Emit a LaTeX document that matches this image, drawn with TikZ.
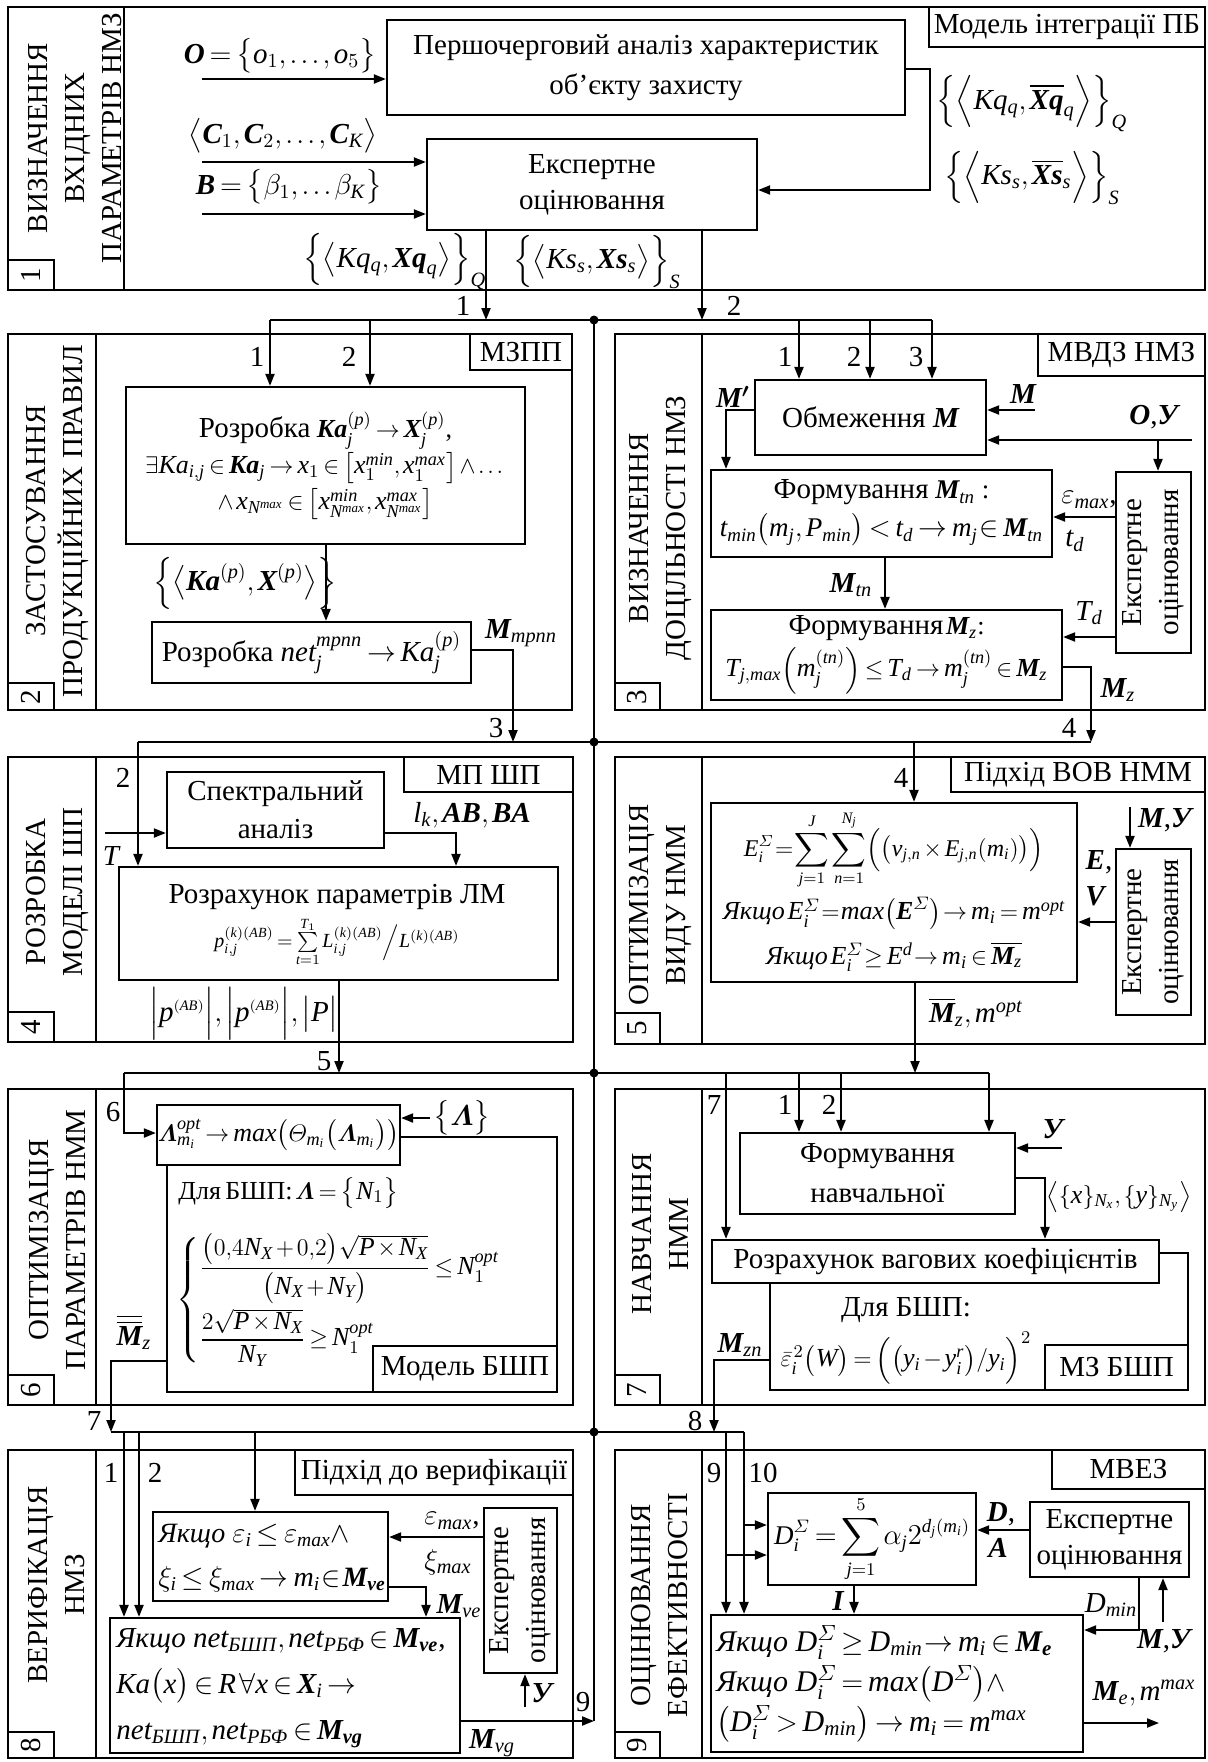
\documentclass[tikz,border=0pt]{standalone}
\usepackage{amsmath,amssymb}
\usepackage{fontspec}
\setmainfont{Liberation Serif}
\newfontfamily\libser{Liberation Serif}[NFSSFamily=libser]
\DeclareSymbolFont{tlet}{TU}{libser}{m}{it}
\SetSymbolFont{tlet}{bold}{TU}{libser}{b}{it}
\DeclareSymbolFont{tdig}{TU}{libser}{m}{n}
\SetSymbolFont{tdig}{bold}{TU}{libser}{b}{n}
\DeclareMathSymbol{a}{\mathalpha}{tlet}{`a}\DeclareMathSymbol{b}{\mathalpha}{tlet}{`b}
\DeclareMathSymbol{c}{\mathalpha}{tlet}{`c}\DeclareMathSymbol{d}{\mathalpha}{tlet}{`d}
\DeclareMathSymbol{e}{\mathalpha}{tlet}{`e}\DeclareMathSymbol{f}{\mathalpha}{tlet}{`f}
\DeclareMathSymbol{g}{\mathalpha}{tlet}{`g}\DeclareMathSymbol{h}{\mathalpha}{tlet}{`h}
\DeclareMathSymbol{i}{\mathalpha}{tlet}{`i}\DeclareMathSymbol{j}{\mathalpha}{tlet}{`j}
\DeclareMathSymbol{k}{\mathalpha}{tlet}{`k}\DeclareMathSymbol{l}{\mathalpha}{tlet}{`l}
\DeclareMathSymbol{m}{\mathalpha}{tlet}{`m}\DeclareMathSymbol{n}{\mathalpha}{tlet}{`n}
\DeclareMathSymbol{o}{\mathalpha}{tlet}{`o}\DeclareMathSymbol{p}{\mathalpha}{tlet}{`p}
\DeclareMathSymbol{q}{\mathalpha}{tlet}{`q}\DeclareMathSymbol{r}{\mathalpha}{tlet}{`r}
\DeclareMathSymbol{s}{\mathalpha}{tlet}{`s}\DeclareMathSymbol{t}{\mathalpha}{tlet}{`t}
\DeclareMathSymbol{u}{\mathalpha}{tlet}{`u}\DeclareMathSymbol{v}{\mathalpha}{tlet}{`v}
\DeclareMathSymbol{w}{\mathalpha}{tlet}{`w}\DeclareMathSymbol{x}{\mathalpha}{tlet}{`x}
\DeclareMathSymbol{y}{\mathalpha}{tlet}{`y}\DeclareMathSymbol{z}{\mathalpha}{tlet}{`z}
\DeclareMathSymbol{A}{\mathalpha}{tlet}{`A}\DeclareMathSymbol{B}{\mathalpha}{tlet}{`B}
\DeclareMathSymbol{C}{\mathalpha}{tlet}{`C}\DeclareMathSymbol{D}{\mathalpha}{tlet}{`D}
\DeclareMathSymbol{E}{\mathalpha}{tlet}{`E}\DeclareMathSymbol{F}{\mathalpha}{tlet}{`F}
\DeclareMathSymbol{G}{\mathalpha}{tlet}{`G}\DeclareMathSymbol{H}{\mathalpha}{tlet}{`H}
\DeclareMathSymbol{I}{\mathalpha}{tlet}{`I}\DeclareMathSymbol{J}{\mathalpha}{tlet}{`J}
\DeclareMathSymbol{K}{\mathalpha}{tlet}{`K}\DeclareMathSymbol{L}{\mathalpha}{tlet}{`L}
\DeclareMathSymbol{M}{\mathalpha}{tlet}{`M}\DeclareMathSymbol{N}{\mathalpha}{tlet}{`N}
\DeclareMathSymbol{O}{\mathalpha}{tlet}{`O}\DeclareMathSymbol{P}{\mathalpha}{tlet}{`P}
\DeclareMathSymbol{Q}{\mathalpha}{tlet}{`Q}\DeclareMathSymbol{R}{\mathalpha}{tlet}{`R}
\DeclareMathSymbol{S}{\mathalpha}{tlet}{`S}\DeclareMathSymbol{T}{\mathalpha}{tlet}{`T}
\DeclareMathSymbol{U}{\mathalpha}{tlet}{`U}\DeclareMathSymbol{V}{\mathalpha}{tlet}{`V}
\DeclareMathSymbol{W}{\mathalpha}{tlet}{`W}\DeclareMathSymbol{X}{\mathalpha}{tlet}{`X}
\DeclareMathSymbol{Y}{\mathalpha}{tlet}{`Y}\DeclareMathSymbol{Z}{\mathalpha}{tlet}{`Z}
\DeclareMathSymbol{0}{\mathalpha}{tdig}{`0}\DeclareMathSymbol{1}{\mathalpha}{tdig}{`1}
\DeclareMathSymbol{2}{\mathalpha}{tdig}{`2}\DeclareMathSymbol{3}{\mathalpha}{tdig}{`3}
\DeclareMathSymbol{4}{\mathalpha}{tdig}{`4}\DeclareMathSymbol{5}{\mathalpha}{tdig}{`5}
\DeclareMathSymbol{6}{\mathalpha}{tdig}{`6}\DeclareMathSymbol{7}{\mathalpha}{tdig}{`7}
\DeclareMathSymbol{8}{\mathalpha}{tdig}{`8}\DeclareMathSymbol{9}{\mathalpha}{tdig}{`9}
\usetikzlibrary{arrows.meta,fit}
\newcommand{\Uy}{\textbf{\textit{У}}}
\newcommand{\bs}[1]{\boldsymbol{#1}}
\newcommand{\Yk}{\textit{Якщо}}
\newcommand{\fsz}[2]{\fontsize{#1}{#2}\selectfont}
\newcommand{\tbox}[5][]{\node[box, fit={#3 #4}] (#2) {};\node[txt, align=center, #1] (#2t) at (#2.center) {#5};}
\begin{document}
\thickmuskip=3mu plus 2mu
\medmuskip=2mu plus 1mu
\thinmuskip=2mu
\begin{tikzpicture}[x=0.5pt,y=-0.5pt,
  every node/.style={font=\fsz{14.5}{18}},
  panel/.style={draw, line width=1.4pt},
  box/.style={draw, line width=1.1pt, fill=white, inner sep=0pt},
  arr/.style={line width=1pt, -{Triangle[length=6pt,width=4.5pt]}},
  ln/.style={line width=1pt},
  txt/.style={inner sep=0pt},
  mf/.style={font=\fsz{13}{17}},
  sf/.style={font=\fsz{12}{15}},
  vlab/.style={rotate=90, align=center, inner sep=0pt, font=\fsz{14.5}{18.5}},
  dot/.style={circle, fill, inner sep=0pt, minimum size=4.5pt}]
\useasboundingbox (0,0) rectangle (1208,1762);

% ================= PANEL 1
\draw[panel] (8,7) rectangle (1205,290);
\draw[panel] (124,7) -- (124,290);
\draw[panel] (8,260) rectangle (54,290);
\node[vlab] (t1) at (75,138) {ВИЗНАЧЕННЯ\\ВХІДНИХ\\ПАРАМЕТРІВ НМЗ};
\node[rotate=90] (n1) at (31,275) {1};
\tbox{m1}{(929,7)}{(1205,47)}{Модель інтеграції ПБ}
\tbox{b1}{(387,20)}{(905,115)}{Першочерговий аналіз характеристик\\[2pt]об’єкту захисту}
\tbox{e1}{(427,139)}{(757,230)}{Експертне\\оцінювання}
\coordinate (o0) at (202,79);
\coordinate (c0) at (202,162);
\coordinate (bb0) at (202,214);
\draw[arr] (o0) -- (o0 -| b1.west);
\draw[arr] (c0) -- (c0 -| e1.west);
\draw[arr] (bb0) -- (bb0 -| e1.west);
\node[txt] (lo) at (280,56) {$\bs{O}=\bigl\{o_1,\dots,o_5\bigr\}$};
\node[txt] (lc) at (283,136) {$\bigl\langle\bs{C}_1,\bs{C}_2,\dots,\bs{C}_K\bigr\rangle$};
\node[txt] (lb) at (289,187) {$\bs{B}=\bigl\{\beta_1,\dots\beta_K\bigr\}$};
\coordinate (r1a) at (930,69);
\coordinate (r1b) at (930,190);
\draw[arr] (b1.east |- r1a) -- (r1a) -- (r1b) -- (r1b -| e1.east);
\node[txt] (fq) at (1032,104) {$\Bigl\{\Bigl\langle Kq_q,\overline{\bs{Xq}}_q\Bigr\rangle\Bigr\}_Q$};
\node[txt] (fs) at (1032,178) {$\Bigl\{\Bigl\langle Ks_s,\overline{\bs{Xs}}_s\Bigr\rangle\Bigr\}_S$};
\node[txt] (kq) at (395,262) {$\Bigl\{\bigl\langle Kq_q,\bs{Xq}_q\bigr\rangle\Bigr\}_Q$};
\node[txt] (ks) at (597,262) {$\Bigl\{\bigl\langle Ks_s,\bs{Xs}_s\bigr\rangle\Bigr\}_S$};

% ================= BUS 1
\coordinate (bus1L) at (270,320);
\coordinate (bus1R) at (932,320);
\coordinate (cA) at (594,320);
\coordinate (cZ) at (594,1721);
\draw[ln] (bus1L) -- (bus1R);
\draw[ln] (cA) -- (cZ);
\node[dot] (d1) at (cA) {};
\draw[arr] (e1.south -| 486,0) -- (486,320);
\draw[arr] (e1.south -| 702,0) -- (702,320);
\node[txt] (l1a) at (463,306) {1};
\node[txt] (l1b) at (734,306) {2};

% ================= PANEL 2
\draw[panel] (8,334) rectangle (572,710);
\draw[panel] (96,334) -- (96,710);
\draw[panel] (8,683) rectangle (54,710);
\node[vlab] (t2) at (57,521) {ЗАСТОСУВАННЯ\\ПРОДУКЦІЙНИХ ПРАВИЛ};
\node[rotate=90] (n2) at (31,697) {2};
\tbox{m2}{(470,334)}{(572,370)}{МЗПП}
\tbox[font=\fsz{13}{17}]{a2}{(126,387)}{(525,544)}{{\fsz{14.5}{17}Розробка} $\bs{Ka}_j^{(p)}\to\bs{X}_j^{(p)}$,\\[1pt]
$\exists Ka_{i,j}\in\bs{Ka}_j\to x_1\in\bigl[x_1^{min},x_1^{max}\bigr]\wedge\dots$\\[1pt]
$\wedge\, x_{N^{max}}\in\bigl[x_{N^{max}}^{min},x_{N^{max}}^{max}\bigr]$}
\tbox{b2}{(152,622)}{(471,683)}{Розробка $net_j^{mpnn}\to Ka_j^{(p)}$}
\draw[arr] (270,320) -- (a2.north -| 270,0);
\draw[arr] (370,320) -- (a2.north -| 370,0);
\node[txt] (l2a) at (257,357) {1};
\node[txt] (l2b) at (349,357) {2};
\draw[arr] (a2.south -| 326,0) -- (b2.north -| 326,0);
\node[txt] (kx) at (245,583) {$\Bigl\{\bigl\langle\bs{Ka}^{(p)},\bs{X}^{(p)}\bigr\rangle\Bigr\}$};
\coordinate (o2) at (513,650);
\draw[arr] (b2.east |- o2) -- (o2) -- (513,742);
\node[txt] (mm) at (521,633) {$\bs{M}_{mpnn}$};
\node[txt] (l3) at (496,728) {3};

% ================= BUS 2
\coordinate (bus2L) at (138,742);
\coordinate (bus2R) at (1091,742);
\draw[ln] (bus2L) -- (bus2R);
\node[dot] (d2) at (594,742) {};

% ================= PANEL 3
\draw[panel] (615,334) rectangle (1205,710);
\draw[panel] (702,334) -- (702,710);
\draw[panel] (615,683) rectangle (660,710);
\node[vlab] (t3) at (660,528) {ВИЗНАЧЕННЯ\\ДОЦІЛЬНОСТІ НМЗ};
\node[rotate=90] (n3) at (637,697) {3};
\tbox{m3}{(1038,334)}{(1205,376)}{МВДЗ НМЗ}
\tbox{ob}{(755,380)}{(986,455)}{Обмеження $\bs{M}$}
\draw[arr] (799,320) -- (ob.north -| 799,0);
\draw[arr] (870,320) -- (ob.north -| 870,0);
\draw[arr] (932,320) -- (ob.north -| 932,0);
\node[txt] (l3a) at (785,357) {1};
\node[txt] (l3b) at (854,357) {2};
\node[txt] (l3c) at (916,357) {3};
\node[box, fit={(1116,472)(1191,653)}] (x3) {};
\node[vlab] (x3t) at (x3.center) {Експертне\\оцінювання};
\coordinate (mi) at (1035,410);
\draw[arr] (mi) -- (mi -| ob.east);
\node[txt] (mlab) at (1023,394) {$\bs{M}$};
\coordinate (oy) at (1192,440);
\draw[arr] (oy) -- (oy -| ob.east);
\draw[arr] (1158,440) -- (x3.north -| 1158,0);
\node[txt] (oylab) at (1155,417) {$\bs{O}$,\Uy};
\tbox[font=\fsz{13.5}{17}]{tn}{(711,470)}{(1052,557)}{{\fsz{14.5}{17}Формування} $\bs{M}_{tn}$ :\\[2pt]$t_{min}\bigl(m_j,P_{min}\bigr)<t_d\to m_j\!\in\bs{M}_{tn}$}
\tbox[font=\fsz{13}{17}]{mz}{(711,610)}{(1062,700)}{{\fsz{14.5}{17}Формування}$\,\bs{M}_z$:\\[2pt]$T_{j,max}\Bigl(m_j^{(tn)}\Bigr)\le T_d\to m_j^{(tn)}\in\bs{M}_z$}
\coordinate (mp) at (726,410);
\draw[arr] (ob.west |- mp) -- (mp) -- (tn.north -| mp);
\node[txt] (mplab) at (733,397) {$\bs{M'}$};
\draw[arr] (x3.west |- 0,517) -- (tn.east |- 0,517);
\node[txt] (emx) at (1089,500) {$\varepsilon_{max}$,};
\node[txt] (tdl) at (1075,541) {$t_d$};
\draw[arr] (tn.south -| 885,0) -- (mz.north -| 885,0);
\node[txt] (mtnl) at (851,585) {$\bs{M}_{tn}$};
\draw[arr] (x3.west |- 0,637) -- (mz.east |- 0,637);
\node[txt] (Tdl) at (1089,613) {$T_d$};
\coordinate (o3) at (1091,667);
\draw[arr] (mz.east |- o3) -- (o3) -- (1091,742);
\node[txt] (mzl) at (1118,690) {$\bs{M}_z$};
\node[txt] (l4) at (1069,728) {4};

% ================= PANEL 4
\draw[panel] (8,757) rectangle (573,1042);
\draw[panel] (96,757) -- (96,1042);
\draw[panel] (8,1012) rectangle (54,1042);
\node[vlab] (t4) at (57,892) {РОЗРОБКА\\МОДЕЛІ ШП};
\node[rotate=90] (n4) at (31,1027) {4};
\tbox{m4}{(404,757)}{(573,792)}{МП ШП}
\tbox{sp}{(167,772)}{(384,848)}{Спектральний\\[1pt]аналіз}
\node[box, fit={(119,867)(558,980)}] (rl) {};
\node[txt] (rlt) at (337,897) {Розрахунок параметрів ЛМ};
\node[txt, font=\fsz{10}{12}] (rlf) at (337,942) {$p_{i,j}^{(k)(AB)}=\sum\limits_{t=1}^{T_1}L_{i,j}^{(k)(AB)}\Big/L^{(k)(AB)}$};
\draw[arr] (bus2L) -- (rl.north -| bus2L);
\node[txt] (l4b) at (123,778) {2};
\coordinate (tin) at (105,833);
\draw[arr] (tin) -- (tin -| sp.west);
\node[txt] (tl) at (111,856) {$T$};
\coordinate (o4) at (456,833);
\draw[arr] (sp.east |- o4) -- (o4) -- (rl.north -| o4);
\node[txt] (lk) at (472,815) {$l_k,\bs{AB},\bs{BA}$};
\draw[arr] (rl.south -| 339,0) -- (339,1073);
\node[txt] (pl) at (244,1014) {$\Bigl|p^{\scriptscriptstyle (AB)}\Bigr|,\Bigl|p^{\scriptscriptstyle (AB)}\Bigr|,\bigl|P\bigr|$};
\node[txt] (l5) at (324,1061) {5};

% ================= PANEL 5
\draw[panel] (615,757) rectangle (1205,1044);
\draw[panel] (702,757) -- (702,1044);
\draw[panel] (615,1013) rectangle (660,1044);
\node[vlab] (t5) at (660,905) {ОПТИМІЗАЦІЯ\\ВИДУ НММ};
\node[rotate=90] (n5) at (637,1028) {5};
\tbox{m5}{(951,757)}{(1205,792)}{Підхід ВОВ НММ}
\node[box, fit={(711,803)(1077,982)}] (eb) {};
\node[txt, sf] (ef1) at (894,850) {$\displaystyle E_i^{\varSigma}\!=\!\sum_{j=1}^{J}\sum_{n=1}^{N_j}\Bigl(\bigl(v_{j,n}\times E_{j,n}(m_i)\bigr)\Bigr)$};
\node[txt, mf] (ef2) at (894,913) {\Yk$\,E_i^{\varSigma}\!=\!max\bigl(\bs{E}^{\varSigma}\bigr)\!\to m_i=m^{opt}$};
\node[txt, mf] (ef3) at (894,957) {\Yk$\,E_i^{\varSigma}\!\ge E^d\!\to m_i\in\overline{\bs{M}_z}$};
\draw[arr] (bus2L -| 914,0) -- (eb.north -| 914,0);
\node[txt] (l5b) at (901,778) {4};
\node[box, fit={(1116,849)(1191,1015)}] (x5) {};
\node[vlab] (x5t) at (x5.center) {Експертне\\оцінювання};
\draw[arr] (1130,807) -- (x5.north -| 1130,0);
\node[txt] (myl) at (1166,820) {$\bs{M}$,\Uy};
\draw[arr] (x5.west |- 0,922) -- (eb.east |- 0,922);
\node[txt] (el) at (1099,862) {$\bs{E}$,};
\node[txt] (vl) at (1095,896) {$\bs{V}$};
\draw[arr] (eb.south -| 915,0) -- (915,1073);
\node[txt] (mol) at (976,1013) {$\overline{\bs{M}}_z,m^{opt}$};

% ================= BUS 3
\coordinate (bus3L) at (124,1073);
\coordinate (bus3R) at (989,1073);
\draw[ln] (bus3L) -- (bus3R);
\node[dot] (d3) at (594,1073) {};

% ================= PANEL 6
\draw[panel] (8,1089) rectangle (573,1405);
\draw[panel] (96,1089) -- (96,1405);
\draw[panel] (8,1375) rectangle (54,1405);
\node[vlab] (t6) at (57,1240) {ОПТИМІЗАЦІЯ\\ПАРАМЕТРІВ НММ};
\node[rotate=90] (n6) at (31,1390) {6};
\draw[ln] (167,1137) rectangle (557,1392);
\tbox[mf]{lm}{(157,1105)}{(400,1165)}{$\bs{\varLambda}_{m_i}^{opt}\to max\bigl(\varTheta_{m_i}\bigl(\bs{\varLambda}_{m_i}\bigr)\bigr)$}
\tbox{m6}{(373,1346)}{(557,1392)}{Модель БШП}
\coordinate (b6) at (124,1133);
\draw[arr] (bus3L) -- (b6) -- (b6 -| lm.west);
\node[txt] (l6) at (113,1112) {6};
\coordinate (lin) at (430,1118);
\draw[arr] (lin) -- (lin -| lm.east);
\node[txt, anchor=west] (lset) at (433,1118) {$\bigl\{\bs{\varLambda}\bigr\}$};
\node[txt, anchor=west, mf] (dl) at (178,1193) {Для\,БШП:$\,\bs{\varLambda}=\bigl\{N_1\bigr\}$};
\node[txt, anchor=west, mf] (cs) at (176,1300) {$\left\{\begin{array}{@{}l@{}}
\dfrac{\bigl(0{,}4N_X+0{,}2\bigr)\sqrt{P\times N_X}}{\bigl(N_X+N_Y\bigr)}\le N_1^{opt}\\[12pt]
\dfrac{2\sqrt{P\times N_X}}{N_Y}\ge N_1^{opt}\end{array}\right.$};
\node[txt] (mzz) at (134,1332) {$\overline{\overline{\bs{M}}}_z$};
\coordinate (o6) at (111,1361);
\draw[arr] (167,1361) -- (o6) -- (111,1432);
\node[txt] (l7) at (94,1421) {7};

% ================= PANEL 7
\draw[panel] (615,1089) rectangle (1205,1405);
\draw[panel] (702,1089) -- (702,1405);
\draw[panel] (615,1375) rectangle (660,1405);
\node[vlab] (t7) at (660,1234) {НАВЧАННЯ\\НММ};
\node[rotate=90] (n7) at (637,1390) {7};
\draw[ln] (770,1253) rectangle (1188,1390);
\tbox{fn}{(740,1133)}{(1015,1214)}{Формування\\[2pt]навчальної}
\tbox{rv}{(712,1240)}{(1159,1283)}{Розрахунок вагових коефіцієнтів}
\tbox{m7}{(1045,1345)}{(1188,1390)}{МЗ БШП}
\draw[arr] (bus3L -| 726,0) -- (rv.north -| 726,0);
\draw[arr] (bus3L -| 799,0) -- (fn.north -| 799,0);
\draw[arr] (bus3L -| 841,0) -- (fn.north -| 841,0);
\draw[arr] (bus3R) -- (fn.north -| bus3R);
\node[txt] (l7a) at (714,1105) {7};
\node[txt] (l7b) at (785,1105) {1};
\node[txt] (l7c) at (829,1105) {2};
\coordinate (yin) at (1062,1148);
\draw[arr] (yin) -- (yin -| fn.east);
\node[txt] (yl) at (1054,1129) {\Uy};
\coordinate (o7) at (1045,1178);
\draw[arr] (fn.east |- o7) -- (o7) -- (rv.north -| o7);
\node[txt, mf] (xyl) at (1119,1197) {$\bigl\langle\{x\}_{N_x},\{y\}_{N_y}\bigr\rangle$};
\node[txt] (dl7) at (906,1310) {Для БШП:};
\node[txt, mf] (ef) at (906,1358) {$\bar{\varepsilon}_i^{\,2}\bigl(W\bigr)=\Bigl(\bigl(y_i-y_i^r\bigr)/y_i\Bigr)^2$};
\node[txt] (mzn) at (740,1345) {$\bs{M}_{zn}$};
\coordinate (o7b) at (714,1360);
\draw[arr] (770,1360) -- (o7b) -- (714,1432);
\node[txt] (l8) at (695,1421) {8};

% ================= BUS 4
\coordinate (bus4L) at (111,1432);
\coordinate (bus4R) at (744,1432);
\draw[ln] (bus4L) -- (bus4R);
\node[dot] (d4) at (594,1432) {};

% ================= PANEL 8
\draw[panel] (8,1450) rectangle (573,1758);
\draw[panel] (96,1450) -- (96,1758);
\draw[panel] (8,1732) rectangle (54,1758);
\node[vlab] (t8) at (57,1585) {ВЕРИФІКАЦІЯ\\НМЗ};
\node[rotate=90] (n8) at (31,1745) {8};
\tbox{m8}{(295,1450)}{(573,1495)}{Підхід до верифікації}
\node[box, fit={(153,1512)(388,1601)}] (ve) {};
\node[txt, anchor=west, align=left, font=\fsz{14}{22}] (vet) at (158,1558) {\Yk{} $\varepsilon_i\le\varepsilon_{max}\wedge$\\$\xi_i\le\xi_{max}\to m_i\!\in\!\bs{M}_{\bs{ve}}$};
\node[box, fit={(110,1618)(460,1753)}] (vg) {};
\node[txt, anchor=west, align=left, font=\fsz{14.5}{21}] (vgt) at (116,1688) {\Yk{} $net_{\text{\itshape БШП}},net_{\text{\itshape РБФ}}\in\bs{M}_{\bs{ve}}$,\\[2pt]$Ka\bigl(x\bigr)\in R\,\forall x\in\bs{X}_i\to$\\[2pt]$net_{\text{\itshape БШП}},net_{\text{\itshape РБФ}}\in\bs{M}_{\bs{vg}}$};
\node[box, fit={(484,1508)(557,1673)}] (x8) {};
\node[vlab] (x8t) at (x8.center) {Експертне\\оцінювання};
\draw[arr] (bus4L -| 124,0) -- (vg.north -| 124,0);
\draw[arr] (bus4L -| 139,0) -- (vg.north -| 139,0);
\draw[arr] (bus4L -| 255,0) -- (ve.north -| 255,0);
\node[txt] (l8a) at (111,1473) {1};
\node[txt] (l8b) at (155,1473) {2};
\draw[arr] (x8.west |- 0,1537) -- (ve.east |- 0,1537);
\node[txt] (e8) at (452,1521) {$\varepsilon_{max}$,};
\node[txt] (x8l) at (448,1562) {$\xi_{max}$};
\coordinate (o8) at (426,1587);
\draw[arr] (ve.east |- o8) -- (o8) -- (vg.north -| o8);
\node[txt] (mvel) at (459,1606) {$\bs{M}_{ve}$};
\draw[arr] (525,1707) -- (x8.south -| 525,0);
\node[txt] (y8) at (543,1693) {\Uy};
\draw[arr] (vg.east |- cZ) -- (cZ);
\node[txt] (l9) at (583,1702) {9};
\node[txt] (mvgl) at (492,1743) {$\bs{M}_{vg}$};

% ================= PANEL 9
\draw[panel] (615,1450) rectangle (1205,1758);
\draw[panel] (702,1450) -- (702,1758);
\draw[panel] (615,1732) rectangle (660,1758);
\node[vlab] (t9) at (660,1605) {ОЦІНЮВАННЯ\\ЕФЕКТИВНОСТІ};
\node[rotate=90] (n9) at (637,1745) {9};
\tbox{m9}{(1052,1450)}{(1205,1489)}{МВЕЗ}
\tbox[font=\fsz{13.5}{17}]{db}{(768,1493)}{(976,1585)}{$\displaystyle D_i^{\varSigma}=\sum_{j=1}^{5}\alpha_j2^{d_j(m_i)}$}
\tbox{x9}{(1030,1502)}{(1189,1577)}{Експертне\\оцінювання}
\node[box, fit={(711,1615)(1083,1752)}] (me) {};
\node[txt, anchor=west, align=left, font=\fsz{15}{20}] (met) at (716,1684) {\Yk{} $D_i^{\varSigma}\ge D_{min}\!\to m_i\in\bs{M_e}$\\\Yk{} $D_i^{\varSigma}=max\bigl(D^{\varSigma}\bigr)\wedge$\\$\bigl(D_i^{\varSigma}>D_{min}\bigr)\to m_i=m^{max}$};
\draw[arr] (bus4R -| 726,0) -- (me.north -| 726,0);
\draw[arr] (bus4R) -- (me.north -| bus4R);
\draw[arr] (744,1525) -- (db.west |- 0,1525);
\draw[arr] (726,1555) -- (db.west |- 0,1555);
\node[txt] (l9a) at (714,1473) {9};
\node[txt] (l9b) at (763,1473) {10};
\draw[arr] (x9.west |- 0,1530) -- (db.east |- 0,1530);
\node[txt] (dl9) at (1001,1514) {$\bs{D}$,};
\node[txt] (al9) at (998,1548) {$\bs{A}$};
\draw[arr] (db.south -| 854,0) -- (me.north -| 854,0);
\node[txt] (il) at (838,1601) {$\bs{I}$};
\coordinate (o9) at (1139,1630);
\draw[arr] (x9.south -| o9) -- (o9) -- (o9 -| me.east);
\node[txt] (dmin) at (1111,1605) {$D_{min}$};
\draw[arr] (1163,1622) -- (x9.south -| 1163,0);
\node[txt] (my9) at (1165,1641) {$\bs{M}$,\Uy};
\coordinate (oe) at (1159,1723);
\draw[arr] (me.east |- oe) -- (oe);
\node[txt] (mel) at (1144,1693) {$\bs{M}_e,m^{max}$};
\end{tikzpicture}
\end{document}
